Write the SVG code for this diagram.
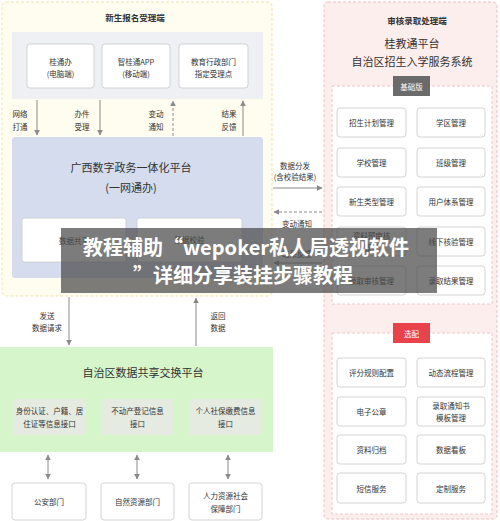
<svg xmlns="http://www.w3.org/2000/svg" width="500" height="521" viewBox="0 0 500 521">
<defs>
<marker id="ah" viewBox="0 0 10 10" refX="9" refY="5" markerWidth="6" markerHeight="6" orient="auto-start-reverse" markerUnits="userSpaceOnUse">
<path d="M0,0 L10,5 L0,10 z" fill="#8a8a8a"/>
</marker>
</defs>
<style>
text{font-family:"Noto Sans CJK SC","Noto Sans",sans-serif;fill:#333;text-anchor:middle;dominant-baseline:central}
.s{font-size:7.5px}
.t{font-size:8.5px;font-weight:bold}
.b{font-size:11px}
.box{fill:#fff;stroke:#c9c9c9;stroke-width:0.8}
.ln{stroke:#8a8a8a;stroke-width:1;fill:none}
.dl{stroke:#8a8a8a;stroke-width:1;fill:none;stroke-dasharray:3,2}
.gbox{fill:#e6ebe2}
.wm{font-size:20px;font-weight:bold;fill:#fff}
</style>
<rect width="500" height="521" fill="#fff"/>

<g id="left-region">
<rect x="2" y="2" width="270" height="294" rx="4" fill="#fffcf0" stroke="#f0e2a8" stroke-dasharray="3,2"/>
<text class="t" x="135" y="17">新生报名受理端</text>
<rect x="12" y="32" width="251" height="67" fill="#eef0f3"/>
</g>
<g id="n-guitongban"><rect class="box" x="27" y="44" width="67" height="44" rx="3"/><text class="s" x="60.5" y="61">桂通办</text><text class="s" x="60.5" y="73">(电脑端)</text></g>
<g id="n-zhiguitong"><rect class="box" x="102" y="44" width="68" height="44" rx="3"/><text class="s" x="136" y="61">智桂通APP</text><text class="s" x="136" y="73">(移动端)</text></g>
<g id="n-jiaoyu"><rect class="box" x="179" y="44" width="69" height="44" rx="3"/><text class="s" x="213.5" y="61">教育行政部门</text><text class="s" x="213.5" y="73">指定受理点</text></g>

<g id="n-yiwangtongban">
<rect x="12" y="137" width="251" height="141" rx="3" fill="#d4dcee"/>
<text class="b" x="131" y="167">广西数字政务一体化平台</text>
<text class="b" x="131" y="187">(一网通办)</text>
<rect class="box" x="22" y="218" width="104" height="44" rx="2"/><text class="s" x="74" y="240">数据共享</text>
<rect class="box" x="137" y="218" width="105" height="44" rx="2"/><text class="s" x="189.5" y="239">数据校验</text>
</g>

<g id="right-region">
<rect x="324" y="2" width="173" height="517" rx="4" fill="#fdeeee" stroke="#f0bcbc" stroke-dasharray="3,2"/>
<text class="t" x="417" y="20">审核录取处理端</text>
<text class="b" x="412" y="43">桂教通平台</text>
<text class="b" x="412" y="61">自治区招生入学服务系统</text>
<rect x="332" y="86" width="160" height="218" fill="#fff" stroke="#ecc8c8" stroke-dasharray="3,2"/>
<rect x="393" y="76" width="37" height="20" fill="#6b6b6b"/>
<text class="s" x="411.5" y="86" style="fill:#fff">基础版</text>
<rect x="332" y="333" width="160" height="181" fill="#fff" stroke="#ecc8c8" stroke-dasharray="3,2"/>
<rect x="393" y="323" width="37" height="20" fill="#e8434b"/>
<text class="s" x="411.5" y="333" style="fill:#fff">选配</text>
</g>
<g id="n-zsjh"><rect class="box" x="337" y="108" width="69" height="29" rx="3"/><text class="s" x="371.5" y="122.5">招生计划管理</text></g>
<g id="n-xqgl"><rect class="box" x="417" y="108" width="68" height="29" rx="3"/><text class="s" x="451" y="122.5">学区管理</text></g>
<g id="n-xxgl"><rect class="box" x="337" y="148" width="69" height="29" rx="3"/><text class="s" x="371.5" y="162.5">学校管理</text></g>
<g id="n-bjgl"><rect class="box" x="417" y="148" width="68" height="29" rx="3"/><text class="s" x="451" y="162.5">班级管理</text></g>
<g id="n-xslx"><rect class="box" x="337" y="187" width="69" height="29" rx="3"/><text class="s" x="371.5" y="201.5">新生类型管理</text></g>
<g id="n-yhtx"><rect class="box" x="417" y="187" width="68" height="29" rx="3"/><text class="s" x="451" y="201.5">用户体系管理</text></g>
<g id="n-zlys"><rect class="box" x="337" y="227" width="69" height="29" rx="3"/><text class="s" x="371.5" y="235">资料预审核</text><text class="s" x="371.5" y="247">管理</text></g>
<g id="n-xxhy"><rect class="box" x="417" y="227" width="68" height="29" rx="3"/><text class="s" x="451" y="241.5">线下核验管理</text></g>
<g id="n-lqsh"><rect class="box" x="337" y="266" width="69" height="29" rx="3"/><text class="s" x="371.5" y="280.5">录取审核管理</text></g>
<g id="n-lqjg"><rect class="box" x="417" y="266" width="68" height="29" rx="3"/><text class="s" x="451" y="280.5">录取结果管理</text></g>

<g id="n-pfgz"><rect class="box" x="337" y="358" width="69" height="29" rx="3"/><text class="s" x="371.5" y="372.5">评分规则配置</text></g>
<g id="n-dtlc"><rect class="box" x="417" y="358" width="68" height="29" rx="3"/><text class="s" x="451" y="372.5">动态流程管理</text></g>
<g id="n-dzgz"><rect class="box" x="337" y="397" width="69" height="29" rx="3"/><text class="s" x="371.5" y="411.5">电子公章</text></g>
<g id="n-lqtzs"><rect class="box" x="417" y="397" width="68" height="29" rx="3"/><text class="s" x="451" y="405.5">录取通知书</text><text class="s" x="451" y="417.5">模板管理</text></g>
<g id="n-zlgd"><rect class="box" x="337" y="435" width="69" height="29" rx="3"/><text class="s" x="371.5" y="449.5">资料归档</text></g>
<g id="n-sjkb"><rect class="box" x="417" y="435" width="68" height="29" rx="3"/><text class="s" x="451" y="449.5">数据看板</text></g>
<g id="n-dxfw"><rect class="box" x="337" y="473" width="69" height="30" rx="3"/><text class="s" x="371.5" y="488">短信服务</text></g>
<g id="n-dzfw"><rect class="box" x="417" y="473" width="68" height="30" rx="3"/><text class="s" x="451" y="488">定制服务</text></g>

<g id="n-gongxiang">
<rect x="0" y="347" width="273" height="105" fill="#d6f5cb"/>
<text class="b" x="143" y="372">自治区数据共享交换平台</text>
<rect class="gbox" x="13" y="399" width="73" height="36"/><text class="s" x="49.5" y="410">身份认证、户籍、居</text><text class="s" x="49.5" y="423">住证等信息接口</text>
<rect class="gbox" x="101" y="399" width="73" height="36"/><text class="s" x="137.5" y="410">不动产登记信息</text><text class="s" x="137.5" y="423">接口</text>
<rect class="gbox" x="189" y="399" width="73" height="36"/><text class="s" x="225.5" y="410">个人社保缴费信息</text><text class="s" x="225.5" y="423">接口</text>
</g>
<g id="n-gongan"><rect class="box" x="12" y="483" width="74" height="37" rx="3"/><text class="s" x="49" y="501.5">公安部门</text></g>
<g id="n-ziran"><rect class="box" x="101" y="483" width="73" height="37" rx="3"/><text class="s" x="137.5" y="501.5">自然资源部门</text></g>
<g id="n-renli"><rect class="box" x="189" y="483" width="73" height="37" rx="3"/><text class="s" x="225.5" y="495">人力资源社会</text><text class="s" x="225.5" y="508">保障部门</text></g>

<g id="connectors">
<line class="ln" x1="37" y1="100" x2="37" y2="135" marker-end="url(#ah)"/>
<line class="ln" x1="100" y1="100" x2="100" y2="135" marker-end="url(#ah)"/>
<line class="dl" x1="173" y1="136" x2="173" y2="101" marker-end="url(#ah)"/>
<line class="ln" x1="243" y1="136" x2="243" y2="101" marker-end="url(#ah)"/>
<text class="s" x="20" y="113">网络</text><text class="s" x="20" y="126">打通</text>
<text class="s" x="82" y="113">办件</text><text class="s" x="82" y="126">受理</text>
<text class="s" x="156" y="113">变动</text><text class="s" x="156" y="126">通知</text>
<text class="s" x="229" y="113">结果</text><text class="s" x="229" y="126">反馈</text>

<text class="s" x="295" y="165">数据分发</text>
<text class="s" x="295" y="176">(含校验结果)</text>
<line class="ln" x1="273" y1="188" x2="322" y2="188" marker-end="url(#ah)"/>
<line class="dl" x1="322" y1="212" x2="274" y2="212" marker-end="url(#ah)"/>
<text class="s" x="297" y="223">变动通知</text>
<text class="s" x="297" y="253">结果反馈</text>
<line class="ln" x1="322" y1="263" x2="274" y2="263" marker-end="url(#ah)"/>

<line class="ln" x1="69" y1="297" x2="69" y2="345" marker-end="url(#ah)"/>
<line class="ln" x1="196" y1="346" x2="196" y2="298" marker-end="url(#ah)"/>
<text class="s" x="47" y="315">发送</text><text class="s" x="47" y="327">数据请求</text>
<text class="s" x="218" y="315">返回</text><text class="s" x="218" y="327">数据</text>

<line class="ln" x1="48" y1="455" x2="48" y2="479" marker-start="url(#ah)" marker-end="url(#ah)"/>
<line class="ln" x1="137" y1="455" x2="137" y2="479" marker-start="url(#ah)" marker-end="url(#ah)"/>
<line class="ln" x1="228" y1="455" x2="228" y2="479" marker-start="url(#ah)" marker-end="url(#ah)"/>
</g>

<g id="watermark">
<rect x="61" y="228" width="376" height="65" fill="#4a4a4a" fill-opacity="0.72"/>
<text class="wm" x="246" y="246">教程辅助“wepoker私人局透视软件</text>
<text class="wm" x="243" y="274">”详细分享装挂步骤教程</text>
</g>
</svg>
